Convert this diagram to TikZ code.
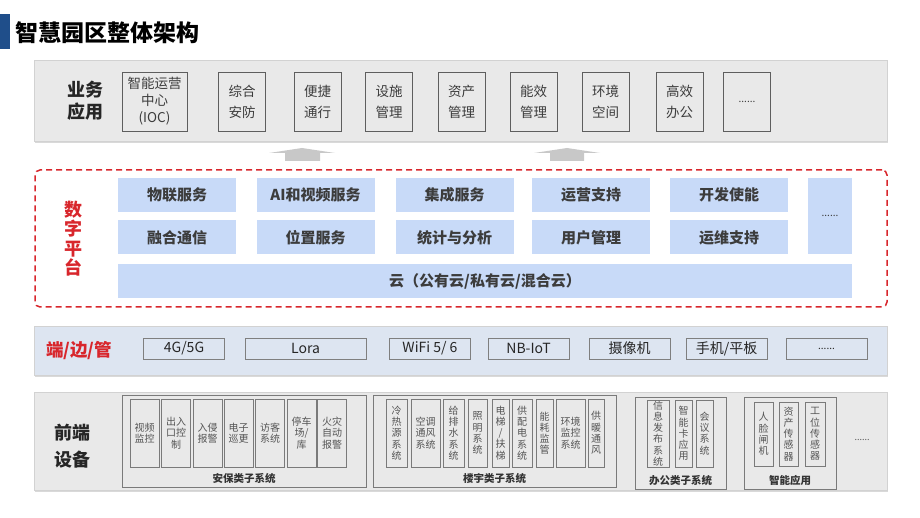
\documentclass[tikz,border=0pt]{standalone}
\usepackage{fontspec}
\setmainfont{Noto Sans CJK SC}
\usepackage{xcolor}
\usetikzlibrary{positioning,shadows}

\definecolor{titleblue}{HTML}{1F4E8A}
\definecolor{bandgray}{HTML}{E9E9E9}
\definecolor{bandline}{HTML}{D2D2D2}
\definecolor{boxline}{HTML}{5E5E5E}
\definecolor{txtgray}{HTML}{3C3C3C}
\definecolor{platblue}{HTML}{C8DAF8}
\definecolor{platred}{HTML}{D8262C}
\definecolor{connfill}{HTML}{DDE5F1}
\definecolor{connline}{HTML}{7F7F7F}
\definecolor{arrowgray}{HTML}{C8C8C8}
\definecolor{devline}{HTML}{7A7A7A}
\definecolor{devtext}{HTML}{555555}

\begin{document}
\begin{tikzpicture}[x=1pt, y=-1pt, inner sep=0pt]
    \tikzstyle{band} = [rectangle, draw=bandline, fill=bandgray, line width=0.6pt, drop shadow={shadow xshift=1.2pt, shadow yshift=-1.8pt, opacity=0.3}]
    \tikzstyle{layer} = [align=center, font=\fontsize{18}{22}\selectfont\bfseries]
    \tikzstyle{app} = [rectangle, draw=boxline, line width=0.9pt, minimum width=47, minimum height=59, align=center, text=txtgray, font=\fontsize{13.5}{21}\selectfont]
    \tikzstyle{svc} = [rectangle, fill=platblue, minimum width=118, minimum height=34, text=txtgray, font=\fontsize{15}{18}\selectfont\bfseries]
    \tikzstyle{link} = [rectangle, draw=connline, fill=connfill, line width=0.8pt, minimum width=81, minimum height=21, text=black!85, font=\fontsize{14}{16}\selectfont]
    \tikzstyle{group} = [rectangle, draw=devline, line width=0.8pt, minimum height=92]
    \tikzstyle{dev} = [rectangle, draw=devline, line width=0.8pt, minimum width=29, minimum height=68, align=center, text=devtext, font=\fontsize{10}{11.2}\selectfont]
    \tikzstyle{grouplabel} = [text=black!80, font=\fontsize{10.5}{12}\selectfont\bfseries]
    \tikzstyle{uparrow} = [fill=arrowgray]

    \useasboundingbox (0,0) rectangle (920,518);

    \fill[titleblue] (0,14) rectangle (10,49);
    \node[anchor=west, font=\fontsize{23}{26}\selectfont\bfseries] (title) at (15,33) {智慧园区整体架构};

    % business applications
    \node[band, minimum width=853, minimum height=81] (appband) at (460.5,100.5) {};
    \node[layer, text=black!85] (applabel) at (85,100.5) {业务\\应用};
    \node[app, minimum width=65, font=\fontsize{13.5}{17}\selectfont] (ioc) at (154.5,101.5) {智能运营\\中心\\(IOC)};
    \node[app] (zhaf) at (242,101.5) {综合\\安防};
    \node[app] (bjtx) at (317.5,101.5) {便捷\\通行};
    \node[app] (ssgl) at (389,101.5) {设施\\管理};
    \node[app] (zcgl) at (461.5,101.5) {资产\\管理};
    \node[app] (nxgl) at (533.5,101.5) {能效\\管理};
    \node[app] (hjkj) at (605.5,101.5) {环境\\空间};
    \node[app] (gxbg) at (679.5,101.5) {高效\\办公};
    \node[app, font=\fontsize{10}{12}\selectfont] (appmore) at (747,101.5) {......};

    \fill[uparrow] (285,161) -- (285,153) -- (269,153) -- (302,148) -- (335,153) -- (320,153) -- (320,161) -- cycle;
    \fill[uparrow] (550,161) -- (550,153) -- (534,153) -- (567,148) -- (600,153) -- (584,153) -- (584,161) -- cycle;

    % digital platform
    \node[rectangle, draw=platred, line width=1.5pt, dash pattern=on 6pt off 4pt, rounded corners=5pt, minimum width=852, minimum height=137] (platbox) at (461,238.5) {};
    \node[layer, text=platred, font=\fontsize{18}{19.5}\selectfont\bfseries] (platlabel) at (73,238.5) {数\\字\\平\\台};
    \node[svc] (wlfw) at (177,195) {物联服务};
    \node[svc] (aisp) at (315.5,195) {AI和视频服务};
    \node[svc] (jcfw) at (454.5,195) {集成服务};
    \node[svc] (yyzc) at (591,195) {运营支持};
    \node[svc] (kfsn) at (729,195) {开发使能};
    \node[svc] (rhtx) at (177,237.5) {融合通信};
    \node[svc] (wzfw) at (315.5,237.5) {位置服务};
    \node[svc] (tjfx) at (454.5,237.5) {统计与分析};
    \node[svc] (yhgl) at (591,237.5) {用户管理};
    \node[svc] (ywzc) at (729,237.5) {运维支持};
    \node[svc, minimum width=44, minimum height=76, font=\fontsize{10}{12}\selectfont] (platmore) at (830,216) {......};
    \node[svc, minimum width=734] (cloud) at (485,281) {云（公有云/私有云/混合云）};

    % terminal / edge / pipe
    \node[band, draw=bandline, fill=connfill, minimum width=853, minimum height=49] (connband) at (460.5,350.5) {};
    \node[layer, text=platred, font=\fontsize{17.5}{20}\selectfont\bfseries] (connlabel) at (79,351) {端/边/管};
    \node[link] (g45) at (184,348.5) {4G/5G};
    \node[link, minimum width=121] (lora) at (305.5,348.5) {Lora};
    \node[link] (wifi) at (430,348.5) {WiFi 5/ 6};
    \node[link] (nbiot) at (528.5,348.5) {NB-IoT};
    \node[link] (cam) at (629.5,348.5) {摄像机};
    \node[link] (phone) at (726.5,348.5) {手机/平板};
    \node[link, font=\fontsize{10}{12}\selectfont] (connmore) at (826.5,348.5) {......};

    % front-end devices
    \node[band, minimum width=853, minimum height=98] (devband) at (460.5,441) {};
    \node[layer, text=black!85, font=\fontsize{18}{27}\selectfont\bfseries] (devlabel) at (72,446) {前端\\设备};

    \node[group, minimum width=244] (security) at (244,441.5) {};
    \node[dev] (sp) at (144.5,433) {视频\\监控};
    \node[dev] (crk) at (176,433) {出入\\口控\\制};
    \node[dev] (rq) at (207.5,433) {入侵\\报警};
    \node[dev] (dz) at (238.5,433) {电子\\巡更};
    \node[dev] (fk) at (270,433) {访客\\系统};
    \node[dev] (tc) at (301.5,433) {停车\\场/\\库};
    \node[dev] (hz) at (332,433) {火灾\\自动\\报警};
    \node[grouplabel] (seclabel) at (244,478) {安保类子系统};

    \node[group, minimum width=243] (building) at (494.5,441.5) {};
    \node[dev, minimum width=21] (lry) at (396.5,433) {冷\\热\\源\\系\\统};
    \node[dev] (ktff) at (425.5,433) {空调\\通风\\系统};
    \node[dev, minimum width=21] (gps) at (453.5,433) {给\\排\\水\\系\\统};
    \node[dev, minimum width=19] (zm) at (477.5,433) {照\\明\\系\\统};
    \node[dev, minimum width=17] (dt) at (500.5,433) {电\\梯\\/\\扶\\梯};
    \node[dev, minimum width=20] (gpd) at (522,433) {供\\配\\电\\系\\统};
    \node[dev, minimum width=17] (nh) at (544.5,433) {能\\耗\\监\\管};
    \node[dev] (hjjk) at (570.5,433) {环境\\监控\\系统};
    \node[dev, minimum width=16] (gn) at (596,433) {供\\暖\\通\\风};
    \node[grouplabel] (bldlabel) at (494.5,478) {楼宇类子系统};

    \node[group, minimum width=91] (office) at (680.5,443) {};
    \node[dev, minimum width=22, minimum height=67] (xxfb) at (658,433.5) {信\\息\\发\\布\\系\\统};
    \node[dev, minimum width=17, minimum height=67] (znk) at (683.5,433.5) {智\\能\\卡\\应\\用};
    \node[dev, minimum width=17, minimum height=67] (hy) at (704.5,433.5) {会\\议\\系\\统};
    \node[grouplabel] (offlabel) at (680.5,480) {办公类子系统};

    \node[group, minimum width=92] (smart) at (790,443) {};
    \node[dev, minimum width=19, minimum height=64] (rl) at (763.5,434) {人\\脸\\闸\\机};
    \node[dev, minimum width=19, minimum height=64] (zccg) at (788.5,434) {资\\产\\传\\感\\器};
    \node[dev, minimum width=20, minimum height=64] (gwcg) at (815,434) {工\\位\\传\\感\\器};
    \node[grouplabel] (smartlabel) at (790,480) {智能应用};

    \node[text=devtext, font=\fontsize{9}{10}\selectfont] (devmore) at (862,440) {......};
\end{tikzpicture}
\end{document}
